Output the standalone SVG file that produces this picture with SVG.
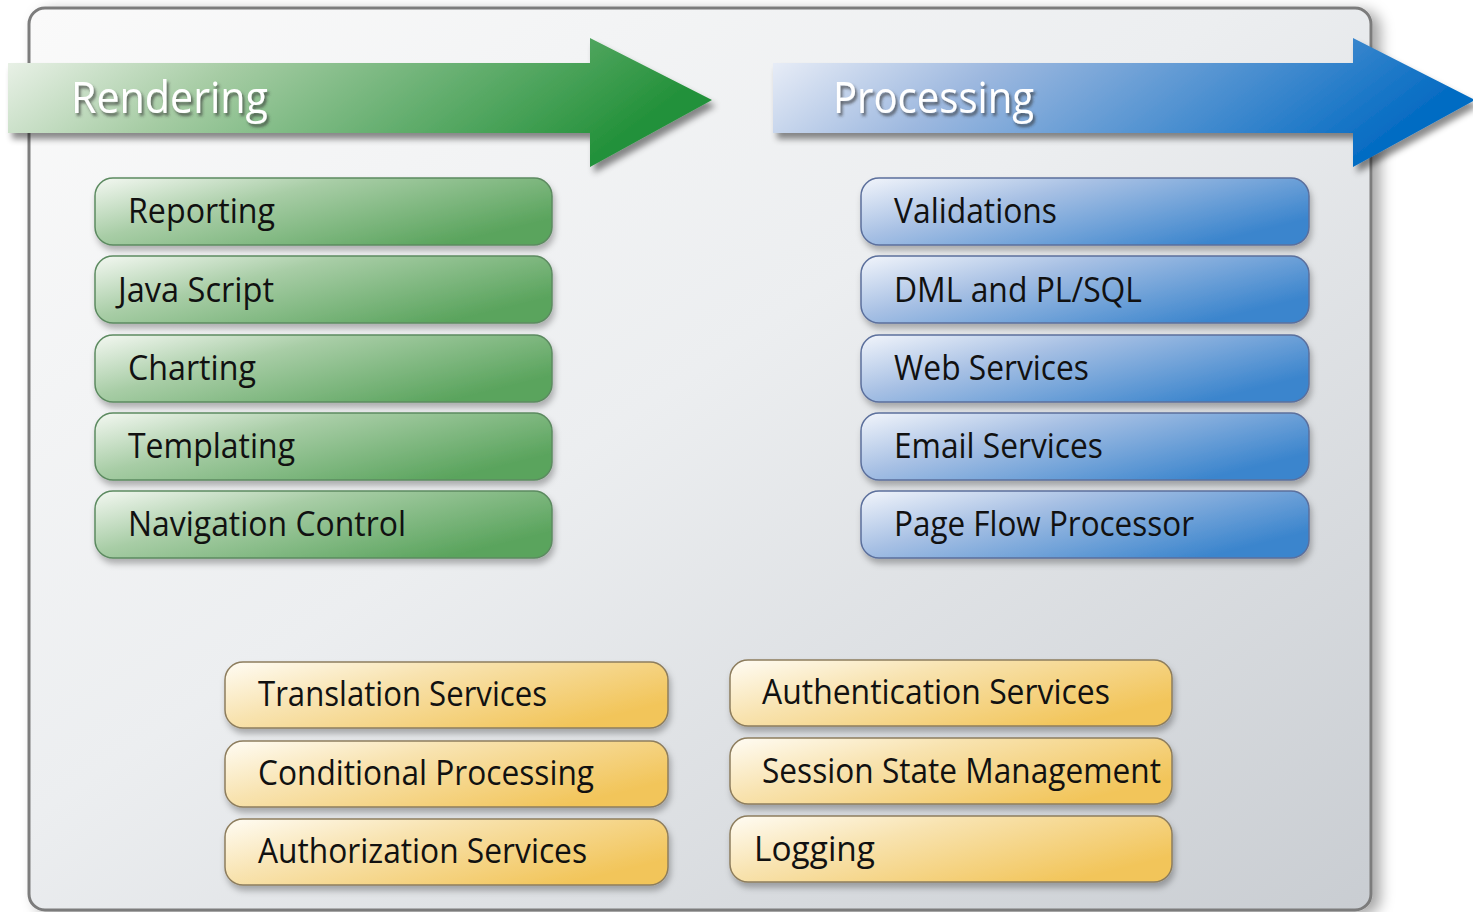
<svg xmlns="http://www.w3.org/2000/svg" width="1473" height="912" viewBox="0 0 1473 912">
<defs>
<linearGradient id="gBg" x1="0" y1="0" x2="1" y2="1">
<stop offset="0" stop-color="#fafafa"/><stop offset="0.45" stop-color="#eceef0"/><stop offset="1" stop-color="#c9cdd2"/>
</linearGradient>
<linearGradient id="gGreenArrow" x1="0" y1="0" x2="1" y2="0.25">
<stop offset="0" stop-color="#f2f6f0"/><stop offset="0.35" stop-color="#a6cca4"/><stop offset="1" stop-color="#23913a"/>
</linearGradient>
<linearGradient id="gBlueArrow" x1="0" y1="0" x2="1" y2="0.25">
<stop offset="0" stop-color="#f2f4fa"/><stop offset="0.35" stop-color="#9db8df"/><stop offset="1" stop-color="#056cc3"/>
</linearGradient>
<linearGradient id="gGreen" x1="0" y1="0" x2="1" y2="0.6">
<stop offset="0" stop-color="#f4f8f2"/><stop offset="0.4" stop-color="#a8cda6"/><stop offset="1" stop-color="#5aa45d"/>
</linearGradient>
<linearGradient id="gBlue" x1="0" y1="0" x2="1" y2="0.6">
<stop offset="0" stop-color="#f2f5fb"/><stop offset="0.4" stop-color="#a7c0e4"/><stop offset="1" stop-color="#3b85cd"/>
</linearGradient>
<linearGradient id="gOrange" x1="0" y1="0" x2="1" y2="0.6">
<stop offset="0" stop-color="#fffcf4"/><stop offset="0.4" stop-color="#f8e3b0"/><stop offset="1" stop-color="#f2c55a"/>
</linearGradient>
<filter id="fBox" x="-10%" y="-20%" width="120%" height="150%">
<feDropShadow dx="2" dy="5" stdDeviation="3" flood-color="#000" flood-opacity="0.28"/>
</filter>
<filter id="fArrow" x="-10%" y="-20%" width="120%" height="150%">
<feDropShadow dx="4" dy="6" stdDeviation="3" flood-color="#000" flood-opacity="0.45"/>
</filter>
<filter id="fPanel" x="-5%" y="-5%" width="110%" height="110%">
<feDropShadow dx="8" dy="4" stdDeviation="7" flood-color="#000" flood-opacity="0.35"/>
</filter>
<filter id="fText" x="-10%" y="-20%" width="120%" height="150%">
<feDropShadow dx="2" dy="3" stdDeviation="1.5" flood-color="#333" flood-opacity="0.7"/>
</filter>
</defs>
<style>
.label{font-family:"Open Sans","Liberation Sans",sans-serif;font-size:35px;fill:#111}
.head{font-family:"Open Sans","Liberation Sans",sans-serif;font-size:43px;fill:#fff}
.green{fill:url(#gGreen);stroke:#5c8a60;stroke-width:1.5}
.blue{fill:url(#gBlue);stroke:#5b6f9c;stroke-width:1.5}
.orange{fill:url(#gOrange);stroke:#8d7d5d;stroke-width:1.5}
</style>
<rect width="1473" height="912" fill="#ffffff"/>
<g id="panel">
<rect x="29" y="8" width="1342" height="902" rx="16" fill="url(#gBg)" stroke="#7c7c7c" stroke-width="3" filter="url(#fPanel)"/>
</g>
<g id="rendering-arrow">
<polygon points="8,63 590,63 590,38 712,100 590,167 590,133 8,133" fill="url(#gGreenArrow)" filter="url(#fArrow)"/>
<text class="head" x="71" y="113" textLength="197" lengthAdjust="spacingAndGlyphs" filter="url(#fText)">Rendering</text>
</g>
<g id="processing-arrow">
<polygon points="773,63 1353,63 1353,38 1475,100 1353,167 1353,133 773,133" fill="url(#gBlueArrow)" filter="url(#fArrow)"/>
<text class="head" x="833" y="113" textLength="201" lengthAdjust="spacingAndGlyphs" filter="url(#fText)">Processing</text>
</g>
<g id="connectors"/>
<g id="reporting"><rect class="green" x="95" y="178" width="457" height="67" rx="18" filter="url(#fBox)"/><text class="label" x="128" y="223" textLength="147" lengthAdjust="spacingAndGlyphs">Reporting</text></g>
<g id="javascript"><rect class="green" x="95" y="256" width="457" height="67" rx="18" filter="url(#fBox)"/><text class="label" x="118" y="302" textLength="156" lengthAdjust="spacingAndGlyphs">Java Script</text></g>
<g id="charting"><rect class="green" x="95" y="335" width="457" height="67" rx="18" filter="url(#fBox)"/><text class="label" x="128" y="380" textLength="128" lengthAdjust="spacingAndGlyphs">Charting</text></g>
<g id="templating"><rect class="green" x="95" y="413" width="457" height="67" rx="18" filter="url(#fBox)"/><text class="label" x="128" y="458" textLength="167" lengthAdjust="spacingAndGlyphs">Templating</text></g>
<g id="navigation"><rect class="green" x="95" y="491" width="457" height="67" rx="18" filter="url(#fBox)"/><text class="label" x="128" y="536" textLength="278" lengthAdjust="spacingAndGlyphs">Navigation Control</text></g>
<g id="validations"><rect class="blue" x="861" y="178" width="448" height="67" rx="18" filter="url(#fBox)"/><text class="label" x="894" y="223" textLength="163" lengthAdjust="spacingAndGlyphs">Validations</text></g>
<g id="dml"><rect class="blue" x="861" y="256" width="448" height="67" rx="18" filter="url(#fBox)"/><text class="label" x="894" y="302" textLength="248" lengthAdjust="spacingAndGlyphs">DML and PL/SQL</text></g>
<g id="webservices"><rect class="blue" x="861" y="335" width="448" height="67" rx="18" filter="url(#fBox)"/><text class="label" x="894" y="380" textLength="195" lengthAdjust="spacingAndGlyphs">Web Services</text></g>
<g id="emailservices"><rect class="blue" x="861" y="413" width="448" height="67" rx="18" filter="url(#fBox)"/><text class="label" x="894" y="458" textLength="209" lengthAdjust="spacingAndGlyphs">Email Services</text></g>
<g id="pageflow"><rect class="blue" x="861" y="491" width="448" height="67" rx="18" filter="url(#fBox)"/><text class="label" x="894" y="536" textLength="300" lengthAdjust="spacingAndGlyphs">Page Flow Processor</text></g>
<g id="translation"><rect class="orange" x="225" y="662" width="443" height="66" rx="18" filter="url(#fBox)"/><text class="label" x="258" y="706" textLength="289" lengthAdjust="spacingAndGlyphs">Translation Services</text></g>
<g id="conditional"><rect class="orange" x="225" y="741" width="443" height="66" rx="18" filter="url(#fBox)"/><text class="label" x="258" y="785" textLength="336" lengthAdjust="spacingAndGlyphs">Conditional Processing</text></g>
<g id="authorization"><rect class="orange" x="225" y="819" width="443" height="66" rx="18" filter="url(#fBox)"/><text class="label" x="258" y="863" textLength="329" lengthAdjust="spacingAndGlyphs">Authorization Services</text></g>
<g id="authentication"><rect class="orange" x="730" y="660" width="442" height="66" rx="18" filter="url(#fBox)"/><text class="label" x="762" y="704" textLength="348" lengthAdjust="spacingAndGlyphs">Authentication Services</text></g>
<g id="session"><rect class="orange" x="730" y="738" width="442" height="66" rx="18" filter="url(#fBox)"/><text class="label" x="762" y="783" textLength="399" lengthAdjust="spacingAndGlyphs">Session State Management</text></g>
<g id="logging"><rect class="orange" x="730" y="816" width="442" height="66" rx="18" filter="url(#fBox)"/><text class="label" x="754" y="861" textLength="121" lengthAdjust="spacingAndGlyphs">Logging</text></g>
</svg>
